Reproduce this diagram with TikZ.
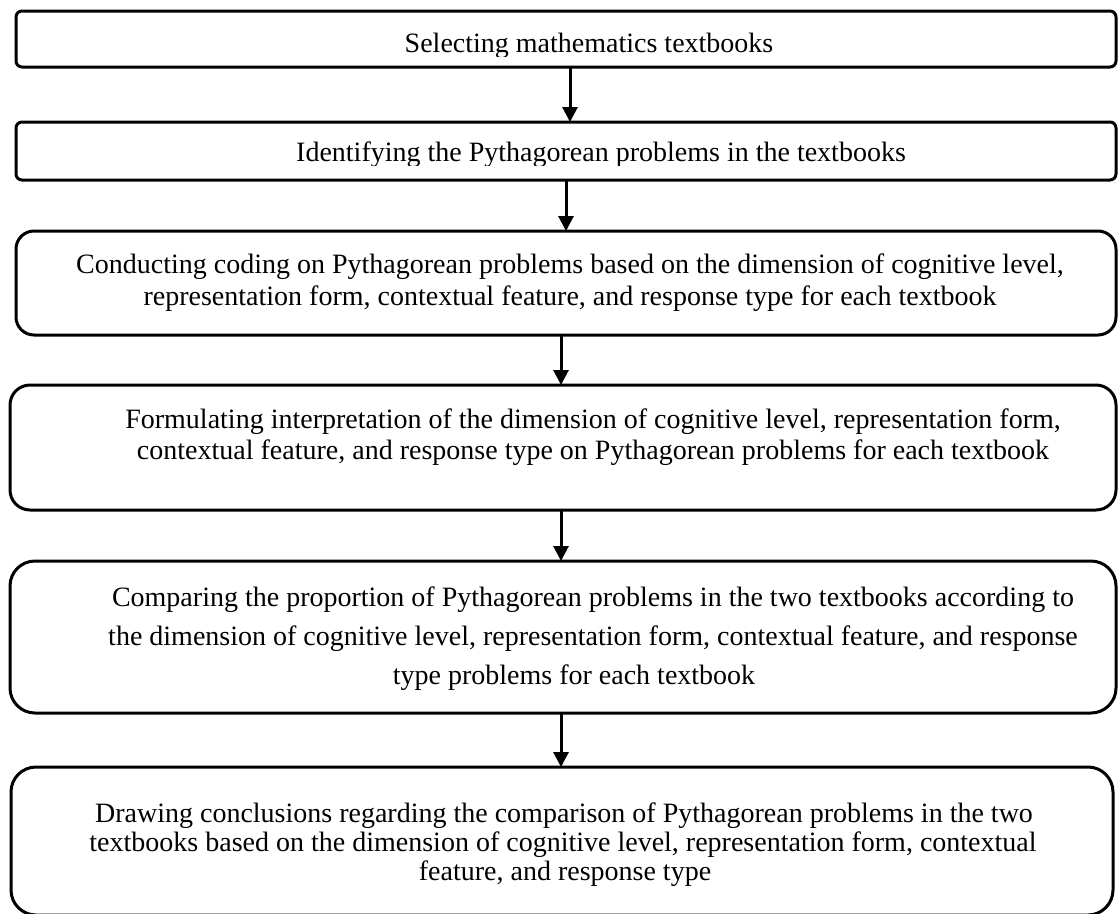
\documentclass[tikz,border=0pt]{standalone}
\usepackage{fontspec}
\setmainfont{Liberation Serif}
\usetikzlibrary{arrows.meta}
\tikzset{
  box/.style={draw=black, line width=3pt, fill=none, inner sep=0pt, outer sep=0pt, anchor=north west},
  arr/.style={line width=3pt, -{Triangle[width=15pt,length=15pt]}},
  txt/.style={anchor=base, inner sep=0pt, font=\fontsize{28}{32}\selectfont}
}
\begin{document}
\begin{tikzpicture}[x=1pt,y=-1pt]
\useasboundingbox (0,0) rectangle (1118,913);
% boxes
\node[box, rounded corners=6pt, minimum width=1100pt, minimum height=56pt] (b1) at (16,11) {};
\node[box, rounded corners=6pt, minimum width=1100pt, minimum height=58pt] (b2) at (16,122) {};
\node[box, rounded corners=18pt, minimum width=1100pt, minimum height=104pt] (b3) at (16,231) {};
\node[box, rounded corners=20pt, minimum width=1106pt, minimum height=125pt] (b4) at (10,385) {};
\node[box, rounded corners=25pt, minimum width=1106pt, minimum height=152pt] (b5) at (10,561) {};
\node[box, rounded corners=25pt, minimum width=1102pt, minimum height=148pt] (b6) at (11,767) {};
% texts
\begin{scope}
\clip (16,11) rectangle (1116,56);
\node[txt] (t1) at (589,52) {Selecting mathematics textbooks};
\end{scope}
\begin{scope}
\clip (16,122) rectangle (1116,165);
\node[txt] (t2) at (601,161) {Identifying the Pythagorean problems in the textbooks};
\end{scope}
\node[txt] (t3a) at (570,273) {Conducting coding on Pythagorean problems based on the dimension of cognitive level,};
\node[txt] (t3b) at (570,305) {representation form, contextual feature, and response type for each textbook};
\node[txt] (t4a) at (593,428) {Formulating interpretation of the dimension of cognitive level, representation form,};
\node[txt] (t4b) at (593,459) {contextual feature, and response type on Pythagorean problems for each textbook};
\node[txt] (t5a) at (593,606) {Comparing the proportion of Pythagorean problems in the two textbooks according to};
\node[txt] (t5b) at (593,645) {the dimension of cognitive level, representation form, contextual feature, and response};
\node[txt] (t5c) at (574,684) {type problems for each textbook};
\node[txt] (t6a) at (564,822) {Drawing conclusions regarding the comparison of Pythagorean problems in the two};
\node[txt] (t6b) at (563,851) {textbooks based on the dimension of cognitive level, representation form, contextual};
\node[txt] (t6c) at (565,880) {feature, and response type};
% arrows
\coordinate (a1) at (570,0);
\coordinate (a2) at (566,0);
\coordinate (a3) at (561,0);
\draw[arr] (b1.south -| a1) -- (b2.north -| a1);
\draw[arr] (b2.south -| a2) -- (b3.north -| a2);
\draw[arr] (b3.south -| a3) -- (b4.north -| a3);
\draw[arr] (b4.south -| a3) -- (b5.north -| a3);
\draw[arr] (b5.south -| a3) -- (b6.north -| a3);
\end{tikzpicture}
\end{document}
